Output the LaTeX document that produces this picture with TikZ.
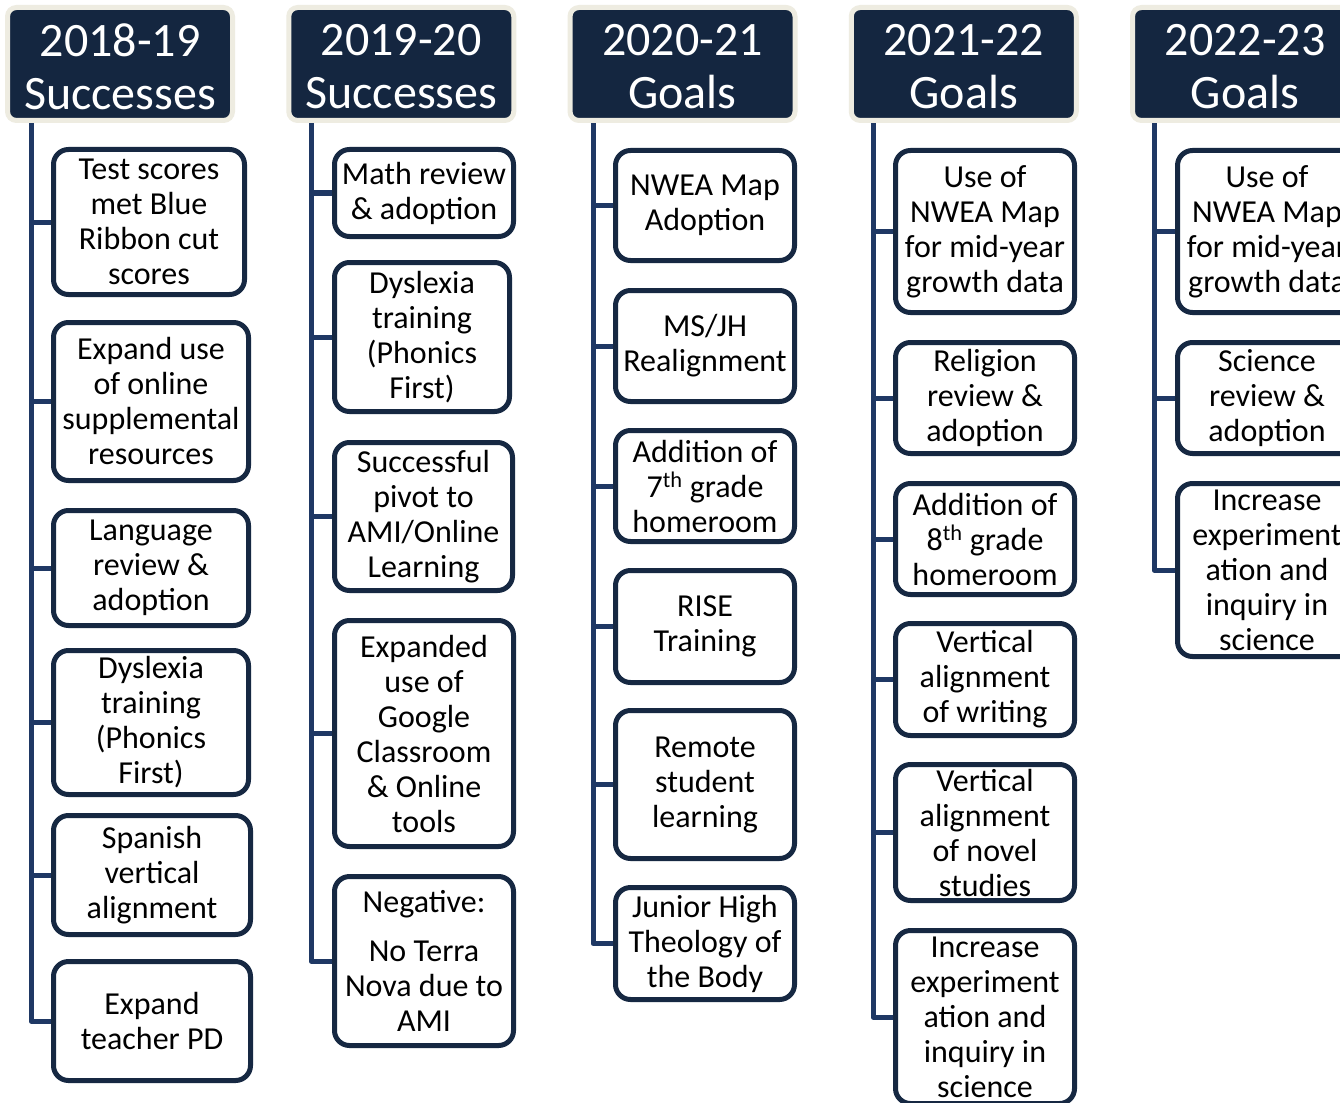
\documentclass[tikz,border=0pt]{standalone}
\usepackage{fontspec}
\setmainfont{Carlito}
\definecolor{hdrnavy}{RGB}{20,38,64}
\definecolor{hdrbeige}{RGB}{238,236,225}
\definecolor{boxline}{RGB}{22,40,66}
\definecolor{connblue}{RGB}{31,56,100}
\tikzset{
  hdr/.style={fill=hdrnavy, draw=hdrbeige, line width=5pt, rounded corners=9pt,
    minimum width=225pt, minimum height=113pt, inner sep=0pt},
  hdrtext/.style={inner sep=0pt, align=center,
    text=white, font=\fontsize{48}{53}\selectfont},
  item/.style={fill=white, draw=boxline, line width=5pt, rounded corners=15pt,
    inner sep=0pt, align=center, text=black, font=\fontsize{32}{35}\selectfont},
  conn/.style={draw=connblue, line width=5pt, line join=round}
}
\begin{document}
\begin{tikzpicture}[x=1pt,y=-1pt]
\useasboundingbox (0,0) rectangle (1340,1102);
\clip (0,0) rectangle (1340,1102);
\fill[white] (0,0) rectangle (1340,1102);

% tops of trunks
\coordinate (t1) at (31,118);
\coordinate (t2) at (311,118);
\coordinate (t3) at (593,118);
\coordinate (t4) at (873,118);
\coordinate (t5) at (1154,118);

% Column 1
\node[item, minimum width=191pt, minimum height=145pt] (b11) at (149,222) {Test scores\\met Blue\\Ribbon cut\\scores};
\node[item, minimum width=195pt, minimum height=158pt] (b12) at (151,401.5) {Expand use\\of online\\supplemental\\resources};
\node[item, minimum width=195pt, minimum height=115pt] (b13) at (151,568) {Language\\review \&\\adoption};
\node[item, minimum width=195pt, minimum height=144pt] (b14) at (151,722.5) {Dyslexia\\training\\(Phonics\\First)};
\node[item, minimum width=197pt, minimum height=119pt] (b15) at (152,875) {Spanish\\vertical\\alignment};
\node[item, minimum width=197pt, minimum height=119pt] (b16) at (152,1021) {Expand\\teacher PD};

% Column 2
\node[item, minimum width=179pt, minimum height=87pt] (b21) at (424,193) {Math review\\\& adoption};
\node[item, minimum width=175pt, minimum height=149pt] (b22) at (422,337) {Dyslexia\\training\\(Phonics\\First)};
\node[item, minimum width=178pt, minimum height=148pt] (b23) at (423.5,516.5) {Successful\\pivot to\\AMI/Online\\Learning};
\node[item, minimum width=179pt, minimum height=226pt] (b24) at (424,733.5) {Expanded\\use of\\Google\\Classroom\\\& Online\\tools};
\node[item, minimum width=179pt, minimum height=169pt] (b25) at (424,961) {Negative:\\[14pt]No Terra\\Nova due to\\AMI};

% Column 3
\node[item, minimum width=179pt, minimum height=110pt] (b31) at (705,205.5) {NWEA Map\\Adoption};
\node[item, minimum width=179pt, minimum height=111pt] (b32) at (705,346) {MS/JH\\Realignment};
\node[item, minimum width=179pt, minimum height=111pt] (b33) at (705,486) {Addition of\\7\textsuperscript{th} grade\\homeroom};
\node[item, minimum width=179pt, minimum height=112pt] (b34) at (705,626.5) {RISE\\Training};
\node[item, minimum width=179pt, minimum height=148pt] (b35) at (705,784.5) {Remote\\student\\learning};
\node[item, minimum width=179pt, minimum height=112pt] (b36) at (705,943.5) {Junior High\\Theology of\\the Body};

% Column 4
\node[item, minimum width=179pt, minimum height=162pt] (b41) at (985,231.5) {Use of\\NWEA Map\\for mid-year\\growth data};
\node[item, minimum width=179pt, minimum height=111pt] (b42) at (985,398) {Religion\\review \&\\adoption};
\node[item, minimum width=179pt, minimum height=111pt] (b43) at (985,539) {Addition of\\8\textsuperscript{th} grade\\homeroom};
\node[item, minimum width=179pt, minimum height=112pt] (b44) at (985,679.5) {Vertical\\alignment\\of writing};
\node[item, minimum width=179pt, minimum height=136pt] (b45) at (985,832.5) {Vertical\\alignment\\of novel\\studies};
\node[item, minimum width=179pt, minimum height=173pt] (b46) at (985,1017) {Increase\\experiment\\ation and\\inquiry in\\science};

% Column 5
\node[item, minimum width=179pt, minimum height=162pt] (b51) at (1267,231.5) {Use of\\NWEA Map\\for mid-year\\growth data};
\node[item, minimum width=179pt, minimum height=111pt] (b52) at (1267,398) {Science\\review \&\\adoption};
\node[item, minimum width=179pt, minimum height=173pt] (b53) at (1267,570) {Increase\\experiment\\ation and\\inquiry in\\science};

% Connectors
\draw[conn] (t1) |- (b16.west);
\foreach \b in {b11,b12,b13,b14,b15} \draw[conn] (\b.west) -- (\b.west -| t1);
\draw[conn] (t2) |- (b25.west);
\foreach \b in {b21,b22,b23,b24} \draw[conn] (\b.west) -- (\b.west -| t2);
\draw[conn] (t3) |- (b36.west);
\foreach \b in {b31,b32,b33,b34,b35} \draw[conn] (\b.west) -- (\b.west -| t3);
\draw[conn] (t4) |- (b46.west);
\foreach \b in {b41,b42,b43,b44,b45} \draw[conn] (\b.west) -- (\b.west -| t4);
\draw[conn] (t5) |- (b53.west);
\foreach \b in {b51,b52} \draw[conn] (\b.west) -- (\b.west -| t5);

% Headers
\node[hdr] (h1) at (120,64) {};
\node[hdr] (h2) at (401.25,64) {};
\node[hdr] (h3) at (682.5,64) {};
\node[hdr] (h4) at (963.75,64) {};
\node[hdr] (h5) at (1245,64) {};
\node[hdrtext] (h1t) at (120,66.5) {2018-19\\Successes};
\node[hdrtext] (h2t) at (401.25,66.5) {2019-20\\Successes};
\node[hdrtext] (h3t) at (682.5,66.5) {2020-21\\Goals};
\node[hdrtext] (h4t) at (963.75,66.5) {2021-22\\Goals};
\node[hdrtext] (h5t) at (1245,66.5) {2022-23\\Goals};
\end{tikzpicture}
\end{document}
